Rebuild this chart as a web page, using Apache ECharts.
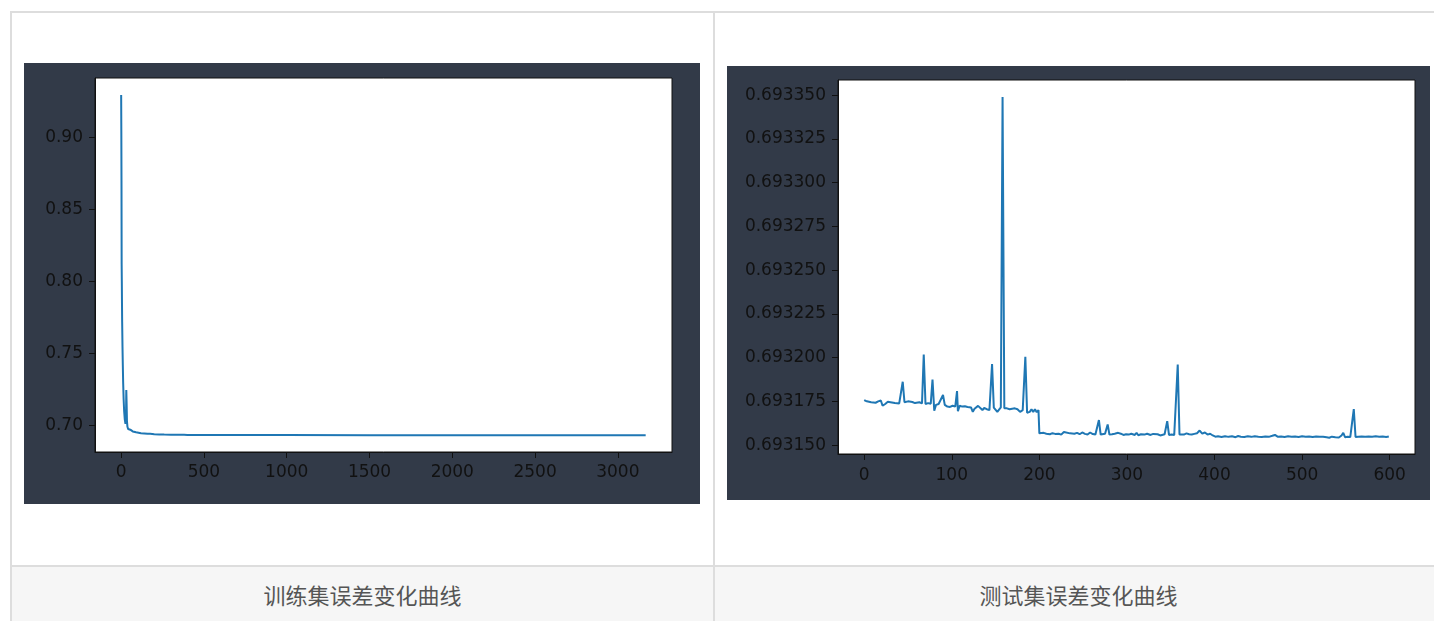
<!DOCTYPE html>
<html>
<head>
<meta charset="utf-8">
<script src="https://cdn.jsdelivr.net/npm/echarts@6/dist/echarts.min.js"></script>
<style>
  html, body { margin: 0; padding: 0; background: #fff; width: 1434px; height: 621px; overflow: hidden; }
  .line { position: absolute; background: #dddddd; }
  .caption { position: absolute; top: 567px; height: 60px; background: #f6f6f6;
             font-family: "Noto Sans CJK SC", sans-serif; font-size: 22px; color: #555;
             display: flex; align-items: center; justify-content: center; padding-bottom: 6px; box-sizing: border-box; }
  .panel { position: absolute; }
</style>
</head>
<body>
<!-- table frame -->
<div class="line" style="left:10px; top:11px; width:1440px; height:2px;"></div>
<div class="line" style="left:10px; top:11px; width:2px; height:620px;"></div>
<div class="line" style="left:713px; top:11px; width:2px; height:620px;"></div>
<div class="line" style="left:12px; top:565px; width:1430px; height:2px;"></div>
<div class="caption" style="left:12px; width:701px;" id="capTrain"></div>
<div class="caption" style="left:715px; width:727px;" id="capTest"></div>

<div class="panel" id="train" style="left:24px; top:63px; width:676px; height:441px;"></div>
<div class="panel" id="test" style="left:727px; top:66px; width:703px; height:434px;"></div>

<script>
// Captions
const trainTitle = '训练集误差变化曲线';
const testTitle = '测试集误差变化曲线';

// Training-set loss per iteration (sampled points)
const trainIter = [0, 1, 2, 3, 4, 5, 6, 8, 10, 12, 15, 18, 22, 26, 29, 31, 33, 35, 38, 42, 46, 50, 55, 60, 70,
  80, 90, 100, 120, 140, 160, 175, 180, 185, 200, 230, 260, 300, 350, 380, 400, 450, 460, 470, 500, 600,
  800, 1000, 1500, 2000, 2500, 3000, 3168];
const trainLoss = [0.9296, 0.905, 0.87, 0.812, 0.800, 0.785, 0.772, 0.755, 0.742, 0.730, 0.718, 0.710, 0.704,
  0.701, 0.703, 0.7245, 0.715, 0.703, 0.699, 0.6975, 0.6968, 0.6965, 0.6970, 0.6962, 0.6958,
  0.6955, 0.6952, 0.6950, 0.6946, 0.6944, 0.6942, 0.6941, 0.6947, 0.6940, 0.6938, 0.6937, 0.6936, 0.69355, 0.6935,
  0.69345, 0.6934, 0.69338, 0.6937, 0.69337, 0.69335, 0.69333, 0.69328, 0.69325, 0.69322, 0.6932, 0.69318, 0.69317, 0.69316];
const trainXTicks = [0, 500, 1000, 1500, 2000, 2500, 3000];
const trainYTicks = [0.70, 0.75, 0.80, 0.85, 0.90];

// Test-set loss per iteration (sampled points)
const testIter = [0, 3, 5, 8, 10, 13, 16, 19, 21, 24, 27, 30, 35, 40, 42, 44, 46, 50, 52, 55, 58, 60, 63, 66, 68,
  70, 73, 76, 78, 80, 82, 85, 87, 90, 92, 95, 98, 101, 104, 106, 107, 109, 112, 115, 118, 120, 122, 124, 126,
  128, 130, 132, 135, 137, 140, 143, 146, 148, 150, 152, 154, 156, 158, 160, 163, 166, 169, 172, 175, 178, 181,
  184, 186, 189, 191, 193, 195, 197, 199, 200, 202, 205, 208, 210, 212, 215, 218, 220, 222, 225, 228, 230, 235,
  240, 243, 246, 249, 252, 255, 258, 261, 264, 266, 268, 270, 272, 275, 278, 280, 283, 286, 290, 293, 296, 299,
  302, 305, 307, 309, 311, 313, 316, 320, 323, 325, 327, 330, 332, 335, 338, 340, 343, 346, 348, 351, 354, 356,
  358, 360, 362, 365, 368, 371, 374, 377, 380, 383, 386, 389, 392, 395, 398, 401, 404, 408, 412, 416, 420, 424,
  427, 430, 434, 438, 442, 446, 450, 454, 458, 462, 466, 469, 472, 476, 480, 484, 488, 492, 496, 500, 504, 508,
  512, 516, 520, 524, 528, 531, 534, 538, 542, 545, 547, 549, 552, 555, 557, 559, 561, 564, 568, 572, 576, 580,
  584, 588, 592, 596, 599];
const testLoss = [0.6931757, 0.6931750, 0.6931755, 0.6931745, 0.6931748, 0.6931742, 0.6931750, 0.6931755,
  0.6931725, 0.6931735, 0.6931748, 0.6931745, 0.6931740, 0.6931738, 0.6931745, 0.6931862, 0.6931745, 0.6931750,
  0.6931742, 0.6931746, 0.6931740, 0.6931738, 0.6931745, 0.6931738, 0.6932018, 0.6931735, 0.6931740, 0.6931736,
  0.6931875, 0.6931696, 0.6931730, 0.6931735, 0.6931738, 0.6931786, 0.6931730, 0.6931720, 0.6931718, 0.6931725,
  0.6931720, 0.6931809, 0.6931694, 0.6931725, 0.6931720, 0.6931722, 0.6931718, 0.6931723, 0.6931715, 0.6931690,
  0.6931708, 0.6931703, 0.6931724, 0.6931715, 0.6931700, 0.6931712, 0.6931705, 0.6931700, 0.6931963, 0.6931714,
  0.6931705, 0.6931690, 0.6931700, 0.6931715, 0.6933490, 0.6931710, 0.6931710, 0.6931705, 0.6931708, 0.6931710,
  0.6931705, 0.6931690, 0.6931700, 0.6932005, 0.6931685, 0.6931690, 0.6931705, 0.6931690, 0.6931705, 0.6931688,
  0.6931700, 0.6931567, 0.6931564, 0.6931570, 0.6931565, 0.6931567, 0.6931562, 0.6931568, 0.6931564, 0.6931572,
  0.6931565, 0.6931560, 0.6931575, 0.6931565, 0.6931567, 0.6931565, 0.6931570, 0.6931562, 0.6931572, 0.6931564,
  0.6931560, 0.6931572, 0.6931563, 0.6931560, 0.6931562, 0.6931643, 0.6931560, 0.6931555, 0.6931565, 0.6931618,
  0.6931560, 0.6931562, 0.6931565, 0.6931570, 0.6931565, 0.6931558, 0.6931562, 0.6931560, 0.6931565, 0.6931572,
  0.6931558, 0.6931570, 0.6931556, 0.6931562, 0.6931560, 0.6931565, 0.6931574, 0.6931558, 0.6931564, 0.6931556,
  0.6931562, 0.6931555, 0.6931560, 0.6931562, 0.6931637, 0.6931558, 0.6931560, 0.6931558, 0.6931563, 0.6931961,
  0.6931560, 0.6931562, 0.6931560, 0.6931567, 0.6931562, 0.6931560, 0.6931564, 0.6931568, 0.6931583, 0.6931565,
  0.6931572, 0.6931560, 0.6931565, 0.6931555, 0.6931548, 0.6931550, 0.6931546, 0.6931551, 0.6931547, 0.6931550,
  0.6931545, 0.6931552, 0.6931548, 0.6931546, 0.6931550, 0.6931547, 0.6931551, 0.6931548, 0.6931546, 0.6931549,
  0.6931547, 0.6931553, 0.6931558, 0.6931548, 0.6931549, 0.6931546, 0.6931550, 0.6931547, 0.6931549, 0.6931546,
  0.6931550, 0.6931547, 0.6931549, 0.6931546, 0.6931549, 0.6931547, 0.6931548, 0.6931545, 0.6931542, 0.6931548,
  0.6931545, 0.6931543, 0.6931555, 0.6931570, 0.6931545, 0.6931548, 0.6931546, 0.6931550, 0.6931706, 0.6931546,
  0.6931548, 0.6931549, 0.6931547, 0.6931549, 0.6931548, 0.6931550, 0.6931547, 0.6931549, 0.6931546, 0.6931549];
const testXTicks = [0, 100, 200, 300, 400, 500, 600];
const testYTicks = [0.69315, 0.693175, 0.6932, 0.693225, 0.69325, 0.693275, 0.6933, 0.693325, 0.69335];

document.getElementById('capTrain').textContent = trainTitle;
document.getElementById('capTest').textContent = testTitle;

function zip(xs, ys) { return xs.map((x, i) => [x, ys[i]]); }

function makeOption(cfg) {
  const labelStyle = { color: '#111', fontFamily: 'DejaVu Sans', fontSize: 17 };
  return {
    animation: false,
    backgroundColor: '#323a48',
    grid: {
      left: cfg.grid[0], top: cfg.grid[1], right: cfg.grid[2], bottom: cfg.grid[3],
      show: true, backgroundColor: '#ffffff', borderColor: '#111', borderWidth: 1, containLabel: false
    },
    xAxis: {
      type: 'value', min: cfg.xRange[0], max: cfg.xRange[1],
      splitLine: { show: false },
      axisLine: { show: true, onZero: false, lineStyle: { color: '#111', width: 1 } },
      axisTick: { show: true, length: 6, customValues: cfg.xTicks, lineStyle: { color: '#111' } },
      axisLabel: Object.assign({ margin: cfg.xMargin, customValues: cfg.xTicks, formatter: v => String(v) }, labelStyle)
    },
    yAxis: {
      type: 'value', min: cfg.yRange[0], max: cfg.yRange[1],
      splitLine: { show: false },
      axisLine: { show: true, onZero: false, lineStyle: { color: '#111', width: 1 } },
      axisTick: { show: true, length: 6, customValues: cfg.yTicks, lineStyle: { color: '#111' } },
      axisLabel: Object.assign({ margin: 12, customValues: cfg.yTicks, formatter: v => v.toFixed(cfg.yDigits) }, labelStyle)
    },
    series: [{
      type: 'line', data: cfg.data, showSymbol: false, symbol: 'none',
      lineStyle: { color: '#1f77b4', width: 2 }, clip: true
    }]
  };
}

echarts.init(document.getElementById('train')).setOption(makeOption({
  grid: [71, 15, 28, 52], xMargin: 12,
  xRange: [-158, 3327], yRange: [0.6815, 0.9414],
  xTicks: trainXTicks, yTicks: trainYTicks, yDigits: 2,
  data: zip(trainIter, trainLoss)
}));

echarts.init(document.getElementById('test')).setOption(makeOption({
  grid: [111, 14, 15, 46], xMargin: 13,
  xRange: [-29.9, 628.9], yRange: [0.6931449, 0.6933587],
  xTicks: testXTicks, yTicks: testYTicks, yDigits: 6,
  data: zip(testIter, testLoss)
}));
</script>
</body>
</html>
